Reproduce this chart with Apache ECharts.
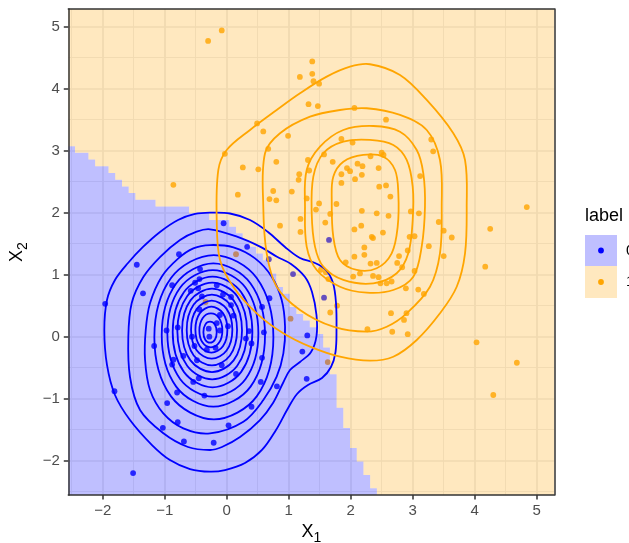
<!DOCTYPE html>
<html><head><meta charset="utf-8">
<script src="https://cdn.jsdelivr.net/npm/echarts@6/dist/echarts.min.js"></script>
<style>html,body{margin:0;padding:0;background:#fff}#c{width:629px;height:543px}</style>
</head><body><div id="c"></div>
<script>
// ---------- data ----------
const xTickValues = [-2, -1, 0, 1, 2, 3, 4, 5];
const yTickValues = [-2, -1, 0, 1, 2, 3, 4, 5];
const xMinorValues = [-2.5, -1.5, -0.5, 0.5, 1.5, 2.5, 3.5, 4.5];
const yMinorValues = [-2.5, -1.5, -0.5, 0.5, 1.5, 2.5, 3.5, 4.5];
const xLimits = [-2.555, 5.284];
const yLimits = [-2.553, 5.285];
const legendTitle = 'label';
const legendLabels = ['0', '1'];

// decision-region tiles: left edge of each tile column and the top of the class-0 region in it
const tileX = [-2.555,-2.447,-2.339,-2.230,-2.122,-2.014,-1.906,-1.798,-1.689,-1.581,-1.473,-1.365,-1.257,-1.148,-1.040,-0.932,-0.824,-0.716,-0.607,-0.499,-0.391,-0.283,-0.175,-0.066,0.042,0.150,0.258,0.366,0.475,0.583,0.691,0.799,0.907,1.016,1.124,1.232,1.340,1.448,1.557,1.665,1.773,1.881,1.989,2.098,2.206,2.314,2.422,5.284];
const tileBoundaryY = [3.073,2.965,2.965,2.857,2.749,2.749,2.641,2.532,2.424,2.316,2.208,2.208,2.208,2.100,2.100,2.100,2.100,2.100,1.991,1.991,1.991,1.883,1.883,1.883,1.775,1.667,1.559,1.450,1.342,1.234,1.018,0.801,0.693,0.477,0.368,0.260,0.152,0.044,-0.173,-0.605,-1.146,-1.471,-1.796,-2.012,-2.229,-2.445,-2.553,-2.553];

// observed points, class 0 and class 1
const points0 = [[-0.05,1.83],[0.33,1.45],[0.68,1.25],[1.07,1.01],[1.65,1.56],[1.57,0.63],[-1.45,1.16],[-0.77,1.33],[-1.96,0.53],[-1.35,0.70],[-0.88,0.83],[-0.43,1.09],[-0.51,0.87],[-0.44,0.93],[-0.58,0.74],[-0.46,0.78],[-0.16,0.83],[-0.06,0.68],[0.07,0.64],[-0.40,0.65],[0.07,0.51],[-0.44,0.44],[-0.11,0.35],[0.11,0.34],[0.69,0.62],[0.57,0.48],[-0.97,0.10],[-0.79,0.15],[-1.17,-0.15],[-0.56,0.00],[-0.52,-0.15],[-0.29,0.13],[-0.28,0.00],[-0.16,0.22],[-0.11,0.10],[0.02,0.17],[-0.32,-0.21],[-0.18,-0.18],[-0.48,-0.38],[-0.70,-0.31],[-0.86,-0.37],[-0.88,-0.45],[-0.08,-0.46],[0.15,-0.60],[-0.45,-0.67],[-0.54,-0.73],[-0.80,-0.90],[-0.36,-0.95],[0.36,0.09],[0.31,-0.03],[0.40,-0.11],[0.60,0.07],[0.57,-0.34],[0.55,-0.73],[0.81,-0.80],[1.30,0.02],[1.22,-0.24],[1.29,-0.68],[-1.81,-0.88],[-0.96,-1.07],[-0.79,-1.38],[-1.03,-1.47],[-0.69,-1.69],[-0.21,-1.71],[0.03,-1.43],[0.40,-1.13],[-1.51,-2.20]];
const points1 = [[-0.30,4.77],[-0.08,4.94],[1.38,4.44],[1.38,4.24],[1.18,4.19],[1.40,4.12],[1.49,4.08],[1.32,3.75],[1.47,3.72],[0.49,3.44],[0.59,3.31],[0.99,3.24],[-0.03,2.95],[0.26,2.73],[0.51,2.70],[0.67,3.03],[0.80,2.82],[0.18,2.29],[0.75,2.35],[0.69,2.22],[0.80,2.20],[0.86,1.79],[1.05,2.34],[1.17,2.62],[1.16,2.53],[1.31,2.85],[1.33,2.68],[1.29,2.23],[1.57,2.94],[1.71,2.82],[1.85,3.19],[2.03,3.13],[2.06,3.69],[2.57,3.50],[3.30,3.18],[3.33,2.99],[2.32,2.91],[2.50,2.97],[2.53,2.93],[2.11,2.79],[2.19,2.75],[1.94,2.72],[1.99,2.67],[1.85,2.62],[2.18,2.61],[2.07,2.54],[2.45,2.72],[1.85,2.48],[2.46,2.42],[2.57,2.44],[2.64,2.26],[3.12,2.59],[1.49,2.15],[1.77,2.14],[1.44,2.05],[1.67,1.98],[1.59,1.84],[1.19,1.90],[1.19,1.69],[2.18,2.03],[2.42,1.99],[2.61,1.95],[2.97,2.02],[3.10,1.99],[2.06,1.73],[2.17,1.79],[2.52,1.68],[2.34,1.61],[2.36,1.59],[2.22,1.44],[2.22,1.32],[2.06,1.29],[1.92,1.20],[2.32,1.18],[2.42,1.19],[2.78,1.30],[2.75,1.19],[2.83,1.12],[3.03,1.62],[2.95,1.61],[2.92,1.39],[3.26,1.46],[3.42,1.85],[3.50,1.71],[3.63,1.60],[3.50,1.30],[3.03,1.06],[3.09,0.76],[3.18,0.69],[2.89,0.78],[2.66,0.89],[2.58,0.86],[2.48,0.86],[2.45,0.96],[2.36,0.98],[2.15,1.02],[2.04,0.97],[1.64,0.93],[1.60,1.04],[1.52,1.08],[1.78,0.50],[1.67,0.39],[2.65,0.38],[2.90,0.38],[2.86,0.27],[2.27,0.12],[2.67,0.08],[2.92,0.04],[4.25,1.74],[4.17,1.13],[4.84,2.09],[4.03,-0.09],[4.68,-0.42],[4.30,-0.94],[-0.86,2.45],[0.15,1.33],[-0.34,0.56],[1.03,0.29],[1.63,-0.41]];

// density contour rings
const contours0 = [
 [[-0.269,2.000],[0.053,1.987],[0.376,1.882],[0.666,1.689],[0.940,1.447],[1.182,1.269],[1.424,1.189],[1.602,1.076],[1.715,0.866],[1.763,0.544],[1.771,0.108],[1.755,-0.247],[1.682,-0.489],[1.537,-0.666],[1.311,-0.779],[1.134,-0.924],[0.973,-1.182],[0.795,-1.505],[0.569,-1.827],[0.295,-2.037],[-0.027,-2.150],[-0.269,-2.177],[-0.592,-2.134],[-0.915,-1.989],[-1.205,-1.747],[-1.560,-1.344],[-1.802,-0.940],[-1.931,-0.456],[-1.974,0.108],[-1.931,0.592],[-1.802,0.915],[-1.592,1.189],[-1.350,1.447],[-1.076,1.689],[-0.785,1.882],[-0.511,1.979]],
 [[-0.269,1.732],[0.166,1.613],[0.537,1.452],[0.811,1.290],[1.037,1.173],[1.263,0.963],[1.376,0.721],[1.448,0.350],[1.448,0.011],[1.360,-0.247],[1.182,-0.408],[1.021,-0.537],[0.908,-0.747],[0.747,-1.069],[0.537,-1.344],[0.215,-1.618],[-0.076,-1.779],[-0.269,-1.827],[-0.624,-1.779],[-1.027,-1.553],[-1.398,-1.182],[-1.560,-0.650],[-1.587,-0.005],[-1.532,0.544],[-1.345,0.963],[-1.076,1.285],[-0.753,1.560],[-0.484,1.694]],
 [[-0.269,1.478],[0.108,1.441],[0.457,1.263],[0.726,0.968],[0.887,0.591],[0.941,0.161],[0.914,-0.269],[0.806,-0.645],[0.591,-1.022],[0.269,-1.371],[-0.269,-1.559],[-0.699,-1.478],[-1.022,-1.237],[-1.237,-0.860],[-1.317,-0.376],[-1.306,0.108],[-1.237,0.538],[-1.048,0.968],[-0.780,1.263],[-0.538,1.425]],
 [[-0.207,1.317],[0.484,0.946],[0.753,-0.008],[0.484,-0.962],[-0.207,-1.333],[-0.898,-0.962],[-1.167,-0.008],[-0.898,0.946]],
 [[-0.215,1.183],[0.385,0.859],[0.618,0.027],[0.385,-0.805],[-0.215,-1.129],[-0.815,-0.805],[-1.048,0.027],[-0.815,0.859]],
 [[-0.223,1.075],[0.305,0.789],[0.511,0.054],[0.305,-0.682],[-0.223,-0.968],[-0.752,-0.682],[-0.957,0.054],[-0.752,0.789]],
 [[-0.228,0.968],[0.234,0.718],[0.414,0.075],[0.234,-0.567],[-0.228,-0.817],[-0.691,-0.567],[-0.871,0.075],[-0.691,0.718]],
 [[-0.234,0.871],[0.170,0.653],[0.328,0.091],[0.170,-0.470],[-0.234,-0.688],[-0.638,-0.470],[-0.796,0.091],[-0.638,0.653]],
 [[-0.237,0.774],[0.112,0.586],[0.247,0.102],[0.112,-0.382],[-0.237,-0.570],[-0.585,-0.382],[-0.720,0.102],[-0.585,0.586]],
 [[-0.239,0.677],[0.053,0.518],[0.167,0.108],[0.053,-0.303],[-0.239,-0.462],[-0.532,-0.303],[-0.645,0.108],[-0.532,0.518]],
 [[-0.242,0.581],[-0.002,0.449],[0.091,0.113],[-0.002,-0.224],[-0.242,-0.355],[-0.482,-0.224],[-0.575,0.113],[-0.482,0.449]],
 [[-0.247,0.484],[-0.061,0.380],[0.011,0.113],[-0.061,-0.154],[-0.247,-0.258],[-0.433,-0.154],[-0.505,0.113],[-0.433,0.380]],
 [[-0.255,0.376],[-0.122,0.299],[-0.070,0.102],[-0.122,-0.095],[-0.255,-0.172],[-0.389,-0.095],[-0.441,0.102],[-0.389,0.299]],
 [[-0.269,0.242],[-0.191,0.195],[-0.161,0.073],[-0.191,-0.049],[-0.269,-0.097],[-0.346,-0.049],[-0.376,0.073],[-0.346,0.195]]
];
const contours1 = [
 [[2.311,4.394],[2.795,4.221],[3.226,3.818],[3.655,3.281],[3.844,2.850],[3.871,2.097],[3.844,1.345],[3.710,0.806],[3.440,0.377],[3.065,-0.053],[2.687,-0.323],[2.311,-0.387],[1.827,-0.323],[1.344,-0.161],[0.913,0.055],[0.484,0.377],[0.106,0.806],[-0.108,1.237],[-0.161,1.882],[-0.135,2.689],[0.000,3.011],[0.376,3.334],[0.806,3.656],[1.182,3.926],[1.613,4.194],[1.989,4.355]],
 [[2.258,3.684],[2.795,3.576],[3.226,3.334],[3.440,2.850],[3.468,2.097],[3.440,1.345],[3.279,0.806],[2.903,0.377],[2.581,0.161],[2.258,0.081],[1.719,0.161],[1.182,0.431],[0.806,0.806],[0.645,1.345],[0.590,2.097],[0.618,2.958],[0.860,3.281],[1.344,3.548],[1.827,3.656]],
 [[2.365,3.398],[2.795,3.306],[3.065,3.011],[3.171,2.635],[3.198,2.097],[3.145,1.452],[3.010,0.968],[2.687,0.753],[2.258,0.710],[1.827,0.806],[1.452,1.076],[1.290,1.452],[1.263,2.097],[1.290,2.689],[1.505,3.065],[1.881,3.334]],
 [[2.311,3.173],[2.687,3.092],[2.903,2.850],[3.000,2.419],[3.000,1.882],[2.929,1.345],[2.742,1.023],[2.365,0.861],[1.881,0.915],[1.558,1.129],[1.424,1.452],[1.371,1.990],[1.397,2.581],[1.558,2.958],[1.881,3.145]],
 [[2.203,2.931],[2.526,2.903],[2.715,2.689],[2.768,2.313],[2.758,1.774],[2.661,1.345],[2.419,1.103],[2.097,1.076],[1.827,1.237],[1.719,1.613],[1.694,2.205],[1.719,2.581],[1.881,2.823]]
];

// ---------- styling ----------
const FONT = '"Liberation Sans", Arial, Helvetica, sans-serif';
const BLUE = '#0000FF', ORANGE = '#FFA500';
const fmt = v => String(v).replace('-', '\u2212');

function gridLines() {
  const d = [];
  xTickValues.forEach(v => d.push({xAxis: v, lineStyle: {width: 1.7}}));
  xMinorValues.forEach(v => d.push({xAxis: v, lineStyle: {width: 0.85}}));
  yTickValues.forEach(v => d.push({yAxis: v, lineStyle: {width: 1.7}}));
  yMinorValues.forEach(v => d.push({yAxis: v, lineStyle: {width: 0.85}}));
  return d;
}
function contourSeries(rings, color) {
  return {
    type: 'custom', coordinateSystem: 'cartesian2d', z: 4, clip: true, silent: true, animation: false,
    data: rings.map((r, i) => [i, 0]),
    renderItem: (params, api) => {
      const ring = rings[api.value(0)];
      return {type: 'polygon', shape: {points: ring.map(p => api.coord(p)), smooth: 0.35},
              style: {fill: 'none', stroke: color, lineWidth: 1.8}};
    }
  };
}
const subRich = {
  x: {fontSize: 18, fontFamily: FONT, color: '#000', lineHeight: 22, verticalAlign: 'top'},
  s: {fontSize: 14, fontFamily: FONT, color: '#000', lineHeight: 14, verticalAlign: 'bottom'}
};
const lineAx = {show: true, onZero: false, lineStyle: {color: '#333333', width: 1.5}};

const chart = echarts.init(document.getElementById('c'), null, {renderer: 'canvas'});
chart.setOption({
  backgroundColor: '#FFFFFF',
  animation: false,
  grid: {left: 68.3, top: 9, width: 486, height: 486, containLabel: false, outerBoundsMode: 'none', show: true, backgroundColor: '#FFFFFF', borderWidth: 0},
  xAxis: [{
    type: 'value', min: xLimits[0], max: xLimits[1], position: 'bottom', z: 10,
    axisLine: lineAx,
    axisTick: {show: true, customValues: xTickValues, length: 4.5, lineStyle: {color: '#333333', width: 1.5}},
    axisLabel: {show: true, customValues: xTickValues, margin: 8, color: '#4D4D4D', fontSize: 15, fontFamily: FONT, formatter: fmt},
    splitLine: {show: false},
    name: '{x|X}{s|1}', nameLocation: 'middle', nameGap: 25, nameTextStyle: {rich: subRich}
  }, {
    type: 'value', min: xLimits[0], max: xLimits[1], position: 'top', z: 10,
    axisLine: lineAx, axisTick: {show: false}, axisLabel: {show: false}, splitLine: {show: false}
  }],
  yAxis: [{
    type: 'value', min: yLimits[0], max: yLimits[1], position: 'left', z: 10,
    axisLine: lineAx,
    axisTick: {show: true, customValues: yTickValues, length: 4.5, lineStyle: {color: '#333333', width: 1.5}},
    axisLabel: {show: true, customValues: yTickValues, margin: 8.5, color: '#4D4D4D', fontSize: 15, fontFamily: FONT, formatter: fmt},
    splitLine: {show: false},
    name: '{x|X}{s|2}', nameLocation: 'middle', nameRotate: 90, nameGap: 38, nameTextStyle: {rich: subRich}
  }, {
    type: 'value', min: yLimits[0], max: yLimits[1], position: 'right', z: 10,
    axisLine: lineAx, axisTick: {show: false}, axisLabel: {show: false}, splitLine: {show: false}
  }],
  series: [
    {type: 'line', data: [], z: 1, silent: true,
     markLine: {z: 1, silent: true, animation: false, symbol: ['none', 'none'], label: {show: false},
                emphasis: {disabled: true}, lineStyle: {color: '#EBEBEB', type: 'solid'}, data: gridLines()}},
    {type: 'scatter', data: points0, z: 2, symbolSize: 5.8, itemStyle: {color: BLUE}, silent: true},
    {type: 'scatter', data: points1, z: 2, symbolSize: 5.8, itemStyle: {color: ORANGE}, silent: true},
    {type: 'line', data: tileX.map((x, i) => [x, tileBoundaryY[i]]), step: 'end', z: 3, silent: true,
     showSymbol: false, symbol: 'none', lineStyle: {width: 0, opacity: 0},
     areaStyle: {color: 'rgba(0,0,255,0.25)', origin: 'start', opacity: 1}},
    {type: 'line', data: tileX.map((x, i) => [x, tileBoundaryY[i]]), step: 'end', z: 3, silent: true,
     showSymbol: false, symbol: 'none', lineStyle: {width: 0, opacity: 0},
     areaStyle: {color: 'rgba(255,165,0,0.25)', origin: 'end', opacity: 1}},
    contourSeries(contours0, BLUE),
    contourSeries(contours1, ORANGE)
  ],
  graphic: [
    {type: 'text', left: 585, top: 207, style: {text: legendTitle, fontSize: 18, fontFamily: FONT, fill: '#000'}},
    {type: 'rect', shape: {x: 585, y: 235, width: 32, height: 31}, style: {fill: '#BFBFFF'}},
    {type: 'rect', shape: {x: 585, y: 266, width: 32, height: 32}, style: {fill: '#FFE8BF'}},
    {type: 'circle', shape: {cx: 601, cy: 250.5, r: 2.9}, style: {fill: BLUE}},
    {type: 'circle', shape: {cx: 601, cy: 282, r: 2.9}, style: {fill: ORANGE}},
    {type: 'text', x: 626, y: 250.5, style: {text: legendLabels[0], fontSize: 15, fontFamily: FONT, fill: '#000', verticalAlign: 'middle'}},
    {type: 'text', x: 626, y: 282, style: {text: legendLabels[1], fontSize: 15, fontFamily: FONT, fill: '#000', verticalAlign: 'middle'}}
  ]
});
</script>
</body></html>
